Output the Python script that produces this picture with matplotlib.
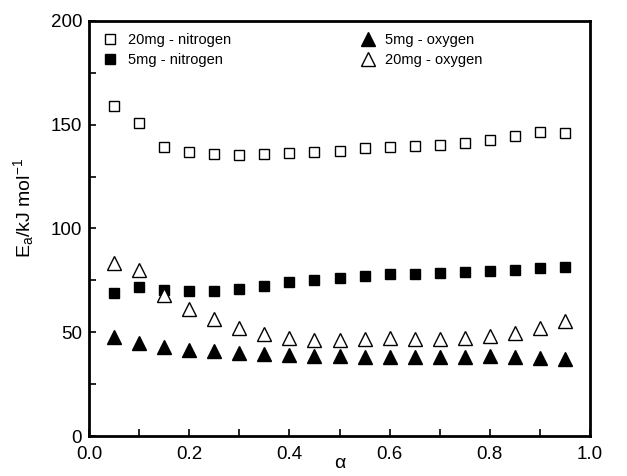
import matplotlib
matplotlib.use("Agg")
import matplotlib.pyplot as plt
from matplotlib.ticker import MultipleLocator

plt.rcParams["font.family"] = ["Liberation Sans", "DejaVu Sans"]
plt.rcParams["mathtext.fontset"] = "custom"
plt.rcParams["mathtext.rm"] = "Liberation Sans"
plt.rcParams["mathtext.it"] = "Liberation Sans"

# conversion degree
alpha = [0.05, 0.10, 0.15, 0.20, 0.25, 0.30, 0.35, 0.40, 0.45, 0.50,
         0.55, 0.60, 0.65, 0.70, 0.75, 0.80, 0.85, 0.90, 0.95]

# activation energy, kJ/mol
n2_20mg = [159.0, 150.8, 139.4, 137.0, 135.9, 135.6, 135.9, 136.4, 136.7, 137.5,
           138.8, 139.4, 139.9, 140.2, 141.0, 142.5, 144.7, 146.5, 146.2]
n2_5mg = [68.8, 71.7, 70.4, 69.7, 69.7, 70.8, 72.3, 74.1, 75.2, 76.3,
          77.1, 78.1, 78.2, 78.4, 78.9, 79.4, 80.2, 81.0, 81.3]
o2_5mg = [47.9, 44.7, 42.7, 41.4, 40.8, 40.2, 39.7, 39.2, 38.7, 38.4,
          38.2, 37.9, 37.9, 38.1, 38.2, 38.5, 38.1, 37.6, 37.1]
o2_20mg = [83.5, 80.0, 67.8, 61.2, 56.4, 52.2, 49.0, 47.4, 46.4, 46.1,
           46.6, 47.1, 46.7, 46.6, 47.4, 48.2, 49.8, 52.2, 55.3]

fig = plt.figure(figsize=(6.27, 4.76), dpi=100)
ax = fig.add_axes([0.142, 0.084, 0.799, 0.872])

sq = dict(marker="s", linestyle="none", markersize=7.8, markeredgewidth=1.0,
          markeredgecolor="black")
tri = dict(marker="^", linestyle="none", markersize=9.5, markeredgewidth=1.0,
           markeredgecolor="black")

h1, = ax.plot(alpha, n2_20mg, markerfacecolor="white", label="20mg - nitrogen", **sq)
h2, = ax.plot(alpha, n2_5mg, markerfacecolor="black", label="5mg - nitrogen", **sq)
h3, = ax.plot(alpha, o2_5mg, markerfacecolor="black", label="5mg - oxygen", **tri)
h4, = ax.plot(alpha, o2_20mg, markerfacecolor="white", label="20mg - oxygen", **tri)

ax.set_xlim(0, 1.0)
ax.set_ylim(0, 200)
ax.xaxis.set_major_locator(MultipleLocator(0.2))
ax.xaxis.set_minor_locator(MultipleLocator(0.1))
ax.yaxis.set_major_locator(MultipleLocator(50))
ax.yaxis.set_minor_locator(MultipleLocator(25))
ax.xaxis.set_major_formatter(plt.FormatStrFormatter("%.1f"))

ax.tick_params(which="both", direction="in", top=False, right=False,
               labelsize=13.5, width=1.2, length=5)
ax.tick_params(axis="x", pad=7)
ax.tick_params(axis="y", pad=5)
for s in ax.spines.values():
    s.set_linewidth(2.0)

ax.set_xlabel("α", fontsize=14)
ax.xaxis.set_label_coords(0.5, -0.045)
ax.set_ylabel("E$_a$/kJ mol$^{-1}$", fontsize=14)
ax.yaxis.set_label_coords(-0.106, 0.55)

ax.legend(handles=[h1, h2, h3, h4], ncol=2, loc="upper left", frameon=False,
          fontsize=10.5, handletextpad=0.6, columnspacing=8.8,
          labelspacing=0.4, borderaxespad=0.45, handlelength=1.2)

fig.savefig("out.png", dpi=100)
